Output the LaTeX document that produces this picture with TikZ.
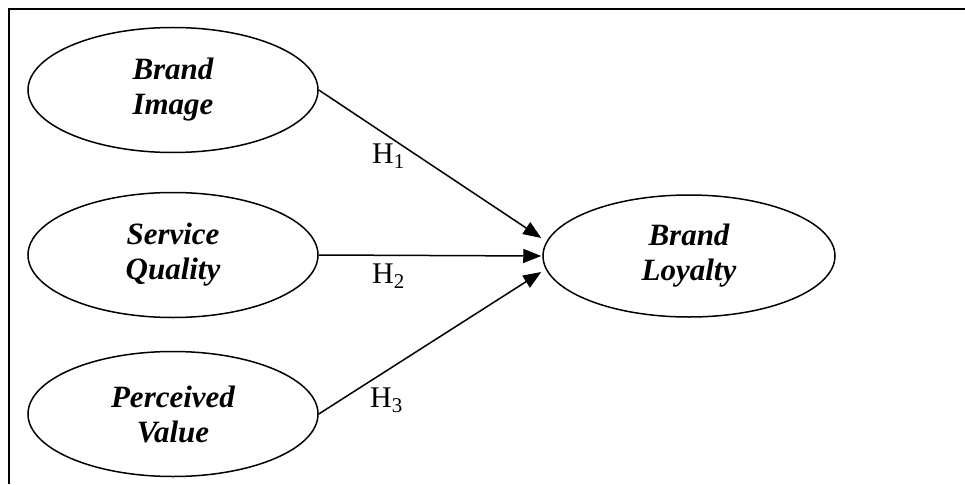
\documentclass[tikz,border=0pt]{standalone}
\usepackage{fontspec}
\setmainfont{Liberation Serif}
\usetikzlibrary{shapes.geometric,arrows.meta,calc}
\begin{document}
\begin{tikzpicture}[x=1pt,y=-1pt,
  construct/.style={ellipse,draw,line width=1.5pt,minimum width=290pt,minimum height=125pt,inner sep=0pt,align=center,font=\fontsize{31}{35}\selectfont\bfseries\itshape},
  path/.style={line width=1.5pt,-{Triangle[length=18pt,width=14pt]}},
  hyp/.style={anchor=base west,inner sep=0pt,font=\fontsize{30}{35}\selectfont},
  frame/.style={line width=2.4pt}]
\useasboundingbox (0,0) rectangle (965,484);
\coordinate (fa) at (9,484);
\coordinate (fb) at (9,9);
\coordinate (fc) at (966,9);
\draw[frame] (fa) -- (fb) -- (fc);
\node[construct] (bi) at (173,90) {Brand\\Image};
\node[construct] (sq) at (173,255) {Service\\Quality};
\node[construct] (pv) at (173,414) {Perceived\\Value};
\node[construct,minimum width=292pt,minimum height=122pt] (bl) at (689,256) {Brand\\Loyalty};
\draw[path] (bi.east) -- ($(bl.west)+(-1,-18)$);
\draw[path] (sq.east) -- ($(bl.west)+(-1,0)$);
\draw[path] (pv.east) -- ($(bl.west)+(-1,16)$);
\node[hyp] (h1) at (372,163) {H\textsubscript{1}};
\node[hyp] (h2) at (372,283) {H\textsubscript{2}};
\node[hyp] (h3) at (370,407) {H\textsubscript{3}};
\end{tikzpicture}
\end{document}
